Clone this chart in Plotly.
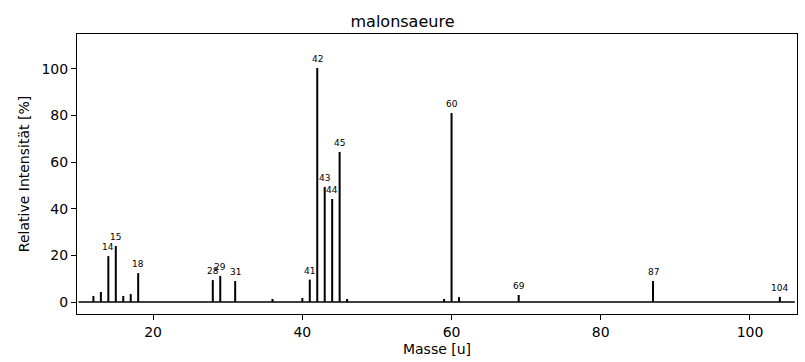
import plotly.graph_objects as go

masses = [12, 13, 14, 15, 16, 17, 18, 28, 29, 31, 36, 40, 41, 42, 43, 44, 45, 46, 59, 60, 61, 69, 87, 104]
intens = [2.6, 4.3, 19.7, 24.0, 2.6, 3.4, 12.4, 9.4, 11.2, 9.0, 1.3, 1.7, 9.6, 100.4, 49.4, 44.2, 64.4, 1.3, 1.3, 81.1, 2.1, 3.0, 9.0, 2.2]
labeled = [14, 15, 18, 28, 29, 31, 41, 42, 43, 44, 45, 60, 69, 87, 104]
baseline_x = [10, 106]
title = "malonsaeure"
xlabel = "Masse [u]"
ylabel = "Relative Intensität [%]"
xticks = [20, 40, 60, 80, 100]
yticks = [0, 20, 40, 60, 80, 100]

sx, sy = [], []
for m, v in zip(masses, intens):
    sx += [m, m, None]
    sy += [0, v, None]

fig = go.Figure()
fig.add_trace(go.Scatter(x=baseline_x, y=[0, 0], mode="lines",
                         line=dict(color="black", width=1.5), hoverinfo="skip"))
fig.add_trace(go.Scatter(x=sx, y=sy, mode="lines",
                         line=dict(color="black", width=2), hoverinfo="skip"))

for m, v in zip(masses, intens):
    if m in labeled:
        fig.add_annotation(x=m, y=v, text=str(m), showarrow=False,
                           xanchor="center", yanchor="bottom", yshift=2,
                           font=dict(family="DejaVu Sans", size=9, color="black"))

fig.update_layout(
    width=805, height=362,
    margin=dict(l=77, r=8, t=34, b=48, autoexpand=False),
    plot_bgcolor="white", paper_bgcolor="white",
    showlegend=False,
    font=dict(family="DejaVu Sans", size=14, color="black"),
    title=dict(text=title, x=0.5, xref="container", xanchor="center",
               y=1 - 21 / 362, yref="container", yanchor="middle",
               font=dict(size=16)),
)
fig.update_xaxes(range=[9.8, 106.3], tickvals=xticks, ticks="outside", ticklen=5,
                 tickwidth=1, tickcolor="black", showgrid=False, zeroline=False,
                 showline=True, linecolor="black", linewidth=1, mirror=True,
                 automargin=False, tickfont=dict(size=14),
                 title=dict(text=xlabel, font=dict(size=14), standoff=5))
fig.update_yaxes(range=[-5.15, 115], tickvals=yticks, ticks="outside", ticklen=5,
                 tickwidth=1, tickcolor="black", showgrid=False, zeroline=False,
                 showline=True, linecolor="black", linewidth=1, mirror=True,
                 automargin=False, tickfont=dict(size=14),
                 title=dict(text=ylabel, font=dict(size=14), standoff=8))

fig.write_html("out.html", config={"displayModeBar": False},
               post_script="document.body.style.margin='0';document.body.style.overflow='hidden';")
